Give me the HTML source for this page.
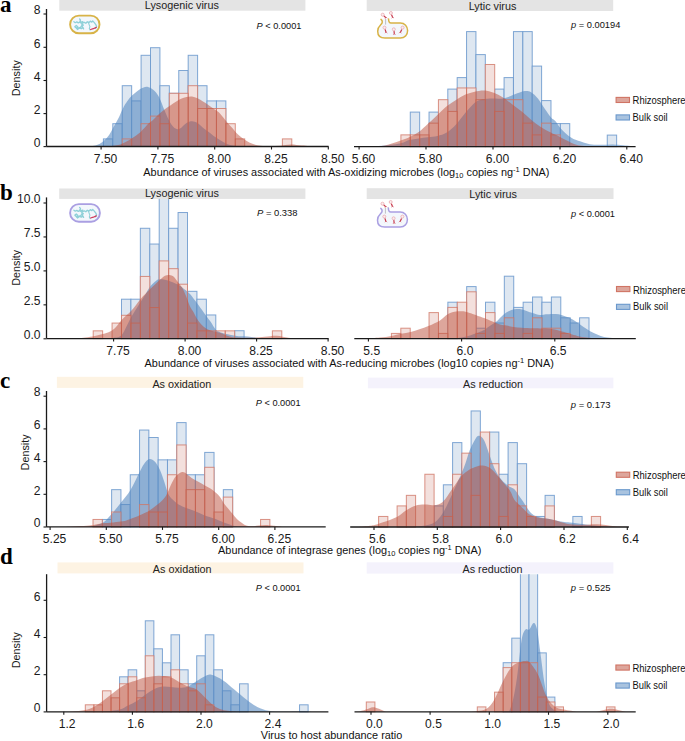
<!DOCTYPE html>
<html><head><meta charset="utf-8"><style>
html,body{margin:0;padding:0;background:#fff;width:685px;height:741px;overflow:hidden}
svg{display:block}
text{font-family:"Liberation Sans",sans-serif}
.lt{font-family:"Liberation Serif",serif;font-weight:bold}
</style></head><body>
<svg width="685" height="741" viewBox="0 0 685 741">
<clipPath id="cal"><rect x="0" y="9.00" width="685" height="139.50"/></clipPath><g clip-path="url(#cal)"><g fill="#dee7f1" stroke="rgb(106,152,204)" stroke-opacity="0.85" stroke-width="1"><rect x="103.40" y="138.90" width="9.42" height="7.60"/><rect x="112.82" y="123.70" width="9.42" height="22.80"/><rect x="122.24" y="85.70" width="9.42" height="60.80"/><rect x="131.66" y="100.90" width="9.42" height="45.60"/><rect x="141.08" y="55.30" width="9.42" height="91.20"/><rect x="150.50" y="47.70" width="9.42" height="98.80"/><rect x="159.92" y="85.70" width="9.42" height="60.80"/><rect x="169.34" y="93.30" width="9.42" height="53.20"/><rect x="178.76" y="70.50" width="9.42" height="76.00"/><rect x="188.18" y="55.30" width="9.42" height="91.20"/><rect x="197.60" y="85.70" width="9.42" height="60.80"/><rect x="207.02" y="100.90" width="9.42" height="45.60"/><rect x="216.44" y="100.90" width="9.42" height="45.60"/></g><g fill="#f3e0dd"><rect x="122.24" y="138.90" width="9.42" height="7.60"/><rect x="141.08" y="123.70" width="9.42" height="22.80"/><rect x="150.50" y="116.10" width="9.42" height="30.40"/><rect x="159.92" y="123.70" width="9.42" height="22.80"/><rect x="169.34" y="93.30" width="9.42" height="53.20"/><rect x="178.76" y="93.30" width="9.42" height="53.20"/><rect x="188.18" y="85.70" width="9.42" height="60.80"/><rect x="197.60" y="108.50" width="9.42" height="38.00"/><rect x="207.02" y="108.50" width="9.42" height="38.00"/><rect x="216.44" y="108.50" width="9.42" height="38.00"/><rect x="225.86" y="123.70" width="9.42" height="22.80"/><rect x="235.28" y="138.90" width="9.42" height="7.60"/><rect x="282.38" y="138.90" width="9.42" height="7.60"/></g><path d="M84.00,146.50 C85.88,146.35 92.12,146.43 95.30,145.60 C98.48,144.77 100.80,143.27 103.10,141.50 C105.40,139.73 107.33,137.45 109.10,135.00 C110.87,132.55 112.17,129.55 113.70,126.80 C115.23,124.05 116.77,121.57 118.30,118.50 C119.83,115.43 121.38,111.30 122.90,108.40 C124.42,105.50 125.88,103.23 127.40,101.10 C128.92,98.97 130.32,97.28 132.00,95.60 C133.68,93.92 135.67,92.30 137.50,91.00 C139.33,89.70 141.25,88.48 143.00,87.80 C144.75,87.12 146.25,86.52 148.00,86.90 C149.75,87.28 151.67,88.42 153.50,90.10 C155.33,91.78 157.17,93.63 159.00,97.00 C160.83,100.37 162.67,106.10 164.50,110.30 C166.33,114.50 168.17,119.15 170.00,122.20 C171.83,125.25 173.82,127.53 175.50,128.60 C177.18,129.67 178.27,129.52 180.10,128.60 C181.93,127.68 184.52,124.32 186.50,123.10 C188.48,121.88 190.17,121.30 192.00,121.30 C193.83,121.30 195.67,122.03 197.50,123.10 C199.33,124.17 201.25,126.32 203.00,127.70 C204.75,129.08 205.83,129.77 208.00,131.40 C210.17,133.03 212.72,135.37 216.00,137.50 C219.28,139.63 223.70,142.70 227.70,144.20 C231.70,145.70 237.95,146.12 240.00,146.50 L240.00,146.50 L84.00,146.50 Z" fill="rgb(83,135,191)" fill-opacity="0.58"/><g fill="none" stroke="rgb(208,116,100)" stroke-opacity="0.78" stroke-width="1"><rect x="122.24" y="138.90" width="9.42" height="7.60"/><rect x="141.08" y="123.70" width="9.42" height="22.80"/><rect x="150.50" y="116.10" width="9.42" height="30.40"/><rect x="159.92" y="123.70" width="9.42" height="22.80"/><rect x="169.34" y="93.30" width="9.42" height="53.20"/><rect x="178.76" y="93.30" width="9.42" height="53.20"/><rect x="188.18" y="85.70" width="9.42" height="60.80"/><rect x="197.60" y="108.50" width="9.42" height="38.00"/><rect x="207.02" y="108.50" width="9.42" height="38.00"/><rect x="216.44" y="108.50" width="9.42" height="38.00"/><rect x="225.86" y="123.70" width="9.42" height="22.80"/><rect x="235.28" y="138.90" width="9.42" height="7.60"/><rect x="282.38" y="138.90" width="9.42" height="7.60"/></g><path d="M100.00,146.50 C102.58,146.35 111.38,146.28 115.50,145.60 C119.62,144.92 121.63,143.85 124.70,142.40 C127.77,140.95 131.15,138.73 133.90,136.90 C136.65,135.07 138.85,133.55 141.20,131.40 C143.55,129.25 145.95,126.00 148.00,124.00 C150.05,122.00 151.67,121.07 153.50,119.40 C155.33,117.73 157.17,115.67 159.00,114.00 C160.83,112.33 162.67,110.78 164.50,109.40 C166.33,108.02 168.17,106.93 170.00,105.70 C171.83,104.47 173.67,103.15 175.50,102.00 C177.33,100.85 179.17,99.63 181.00,98.80 C182.83,97.97 184.67,97.38 186.50,97.00 C188.33,96.62 190.17,96.28 192.00,96.50 C193.83,96.72 195.67,97.45 197.50,98.30 C199.33,99.15 201.25,100.52 203.00,101.60 C204.75,102.68 206.33,103.68 208.00,104.80 C209.67,105.92 211.17,107.00 213.00,108.30 C214.83,109.60 216.90,110.58 219.00,112.60 C221.10,114.62 223.38,117.83 225.60,120.40 C227.82,122.97 230.23,125.63 232.30,128.00 C234.37,130.37 235.80,132.55 238.00,134.60 C240.20,136.65 242.98,138.72 245.50,140.30 C248.02,141.88 250.57,143.18 253.10,144.10 C255.63,145.02 257.88,145.43 260.70,145.80 C263.52,146.17 266.78,146.30 270.00,146.30 C273.22,146.30 276.50,146.08 280.00,145.80 C283.50,145.52 287.33,144.63 291.00,144.60 C294.67,144.57 297.83,145.28 302.00,145.60 C306.17,145.92 313.67,146.35 316.00,146.50 L316.00,146.50 L100.00,146.50 Z" fill="rgb(187,77,57)" fill-opacity="0.50"/></g><line x1="46.50" y1="146.50" x2="328.60" y2="146.50" stroke="#1a1a1a" stroke-width="1.3"/><line x1="101.10" y1="146.50" x2="101.10" y2="149.50" stroke="#1a1a1a" stroke-width="1.1"/><text x="105.58" y="162.70" text-anchor="middle" font-size="12.10" fill="#1a1a1a">7.50</text><line x1="157.90" y1="146.50" x2="157.90" y2="149.50" stroke="#1a1a1a" stroke-width="1.1"/><text x="162.38" y="162.70" text-anchor="middle" font-size="12.10" fill="#1a1a1a">7.75</text><line x1="214.70" y1="146.50" x2="214.70" y2="149.50" stroke="#1a1a1a" stroke-width="1.1"/><text x="219.18" y="162.70" text-anchor="middle" font-size="12.10" fill="#1a1a1a">8.00</text><line x1="271.50" y1="146.50" x2="271.50" y2="149.50" stroke="#1a1a1a" stroke-width="1.1"/><text x="275.98" y="162.70" text-anchor="middle" font-size="12.10" fill="#1a1a1a">8.25</text><line x1="328.30" y1="146.50" x2="328.30" y2="149.50" stroke="#1a1a1a" stroke-width="1.1"/><text x="332.78" y="162.70" text-anchor="middle" font-size="12.10" fill="#1a1a1a">8.50</text>
<clipPath id="car"><rect x="0" y="9.00" width="685" height="139.60"/></clipPath><g clip-path="url(#car)"><g fill="#dee7f1" stroke="rgb(106,152,204)" stroke-opacity="0.85" stroke-width="1"><rect x="410.28" y="112.10" width="9.38" height="34.50"/><rect x="429.04" y="112.10" width="9.38" height="34.50"/><rect x="447.80" y="89.10" width="9.38" height="57.50"/><rect x="457.18" y="77.60" width="9.38" height="69.00"/><rect x="466.56" y="31.60" width="9.38" height="115.00"/><rect x="475.94" y="54.60" width="9.38" height="92.00"/><rect x="485.32" y="100.60" width="9.38" height="46.00"/><rect x="494.70" y="89.10" width="9.38" height="57.50"/><rect x="504.08" y="77.60" width="9.38" height="69.00"/><rect x="513.46" y="31.60" width="9.38" height="115.00"/><rect x="522.84" y="31.60" width="9.38" height="115.00"/><rect x="532.22" y="66.10" width="9.38" height="80.50"/><rect x="541.60" y="100.60" width="9.38" height="46.00"/><rect x="550.98" y="123.60" width="9.38" height="23.00"/><rect x="560.36" y="123.60" width="9.38" height="23.00"/><rect x="607.26" y="135.10" width="9.38" height="11.50"/></g><g fill="#f3e0dd"><rect x="400.90" y="134.87" width="9.38" height="11.73"/><rect x="410.28" y="134.87" width="9.38" height="11.73"/><rect x="419.66" y="134.87" width="9.38" height="11.73"/><rect x="429.04" y="123.14" width="9.38" height="23.46"/><rect x="438.42" y="99.68" width="9.38" height="46.92"/><rect x="447.80" y="111.41" width="9.38" height="35.19"/><rect x="457.18" y="87.95" width="9.38" height="58.65"/><rect x="466.56" y="87.95" width="9.38" height="58.65"/><rect x="475.94" y="99.68" width="9.38" height="46.92"/><rect x="485.32" y="64.49" width="9.38" height="82.11"/><rect x="494.70" y="111.41" width="9.38" height="35.19"/><rect x="504.08" y="99.68" width="9.38" height="46.92"/><rect x="513.46" y="99.68" width="9.38" height="46.92"/><rect x="522.84" y="123.14" width="9.38" height="23.46"/><rect x="532.22" y="134.87" width="9.38" height="11.73"/><rect x="541.60" y="123.14" width="9.38" height="23.46"/><rect x="550.98" y="134.87" width="9.38" height="11.73"/></g><path d="M372.00,146.60 C373.62,146.47 377.03,146.30 381.70,145.80 C386.37,145.30 395.40,144.55 400.00,143.60 C404.60,142.65 406.18,140.97 409.30,140.10 C412.42,139.23 415.58,138.88 418.70,138.40 C421.82,137.92 424.88,137.60 428.00,137.20 C431.12,136.80 434.28,136.77 437.40,136.00 C440.52,135.23 443.60,134.53 446.70,132.60 C449.80,130.67 452.88,127.72 456.00,124.40 C459.12,121.08 462.28,116.30 465.40,112.70 C468.52,109.10 472.27,104.93 474.70,102.80 C477.13,100.67 477.45,100.60 480.00,99.90 C482.55,99.20 486.17,98.85 490.00,98.60 C493.83,98.35 499.27,98.97 503.00,98.40 C506.73,97.83 509.28,96.32 512.40,95.20 C515.52,94.08 519.37,92.38 521.70,91.70 C524.03,91.02 524.83,91.00 526.40,91.10 C527.97,91.20 529.15,91.03 531.10,92.30 C533.05,93.57 535.77,95.88 538.10,98.70 C540.43,101.52 542.95,106.08 545.10,109.20 C547.25,112.32 549.30,115.43 551.00,117.40 C552.70,119.37 553.72,119.18 555.30,121.00 C556.88,122.82 558.75,126.22 560.50,128.30 C562.25,130.38 564.05,131.97 565.80,133.50 C567.55,135.03 569.25,136.40 571.00,137.50 C572.75,138.60 574.10,139.23 576.30,140.10 C578.50,140.97 581.58,141.98 584.20,142.70 C586.82,143.42 588.93,144.07 592.00,144.40 C595.07,144.73 599.10,144.70 602.60,144.70 C606.10,144.70 609.50,144.30 613.00,144.40 C616.50,144.50 619.77,144.93 623.60,145.30 C627.43,145.67 633.93,146.38 636.00,146.60 L636.00,146.60 L372.00,146.60 Z" fill="rgb(83,135,191)" fill-opacity="0.58"/><g fill="none" stroke="rgb(208,116,100)" stroke-opacity="0.78" stroke-width="1"><rect x="400.90" y="134.87" width="9.38" height="11.73"/><rect x="410.28" y="134.87" width="9.38" height="11.73"/><rect x="419.66" y="134.87" width="9.38" height="11.73"/><rect x="429.04" y="123.14" width="9.38" height="23.46"/><rect x="438.42" y="99.68" width="9.38" height="46.92"/><rect x="447.80" y="111.41" width="9.38" height="35.19"/><rect x="457.18" y="87.95" width="9.38" height="58.65"/><rect x="466.56" y="87.95" width="9.38" height="58.65"/><rect x="475.94" y="99.68" width="9.38" height="46.92"/><rect x="485.32" y="64.49" width="9.38" height="82.11"/><rect x="494.70" y="111.41" width="9.38" height="35.19"/><rect x="504.08" y="99.68" width="9.38" height="46.92"/><rect x="513.46" y="99.68" width="9.38" height="46.92"/><rect x="522.84" y="123.14" width="9.38" height="23.46"/><rect x="532.22" y="134.87" width="9.38" height="11.73"/><rect x="541.60" y="123.14" width="9.38" height="23.46"/><rect x="550.98" y="134.87" width="9.38" height="11.73"/></g><path d="M372.00,146.60 C374.17,146.42 380.33,146.48 385.00,145.50 C389.67,144.52 395.95,142.08 400.00,140.70 C404.05,139.32 406.18,138.65 409.30,137.20 C412.42,135.75 415.58,134.23 418.70,132.00 C421.82,129.77 424.88,126.63 428.00,123.80 C431.12,120.97 434.28,117.92 437.40,115.00 C440.52,112.08 443.60,108.82 446.70,106.30 C449.80,103.78 452.88,101.85 456.00,99.90 C459.12,97.95 462.28,95.97 465.40,94.60 C468.52,93.23 471.55,92.38 474.70,91.70 C477.85,91.02 481.13,90.32 484.30,90.50 C487.47,90.68 490.58,91.63 493.70,92.80 C496.82,93.97 499.88,95.55 503.00,97.50 C506.12,99.45 509.28,102.17 512.40,104.50 C515.52,106.83 518.58,108.97 521.70,111.50 C524.82,114.03 527.98,117.17 531.10,119.70 C534.22,122.23 537.30,124.65 540.40,126.70 C543.50,128.75 547.27,130.68 549.70,132.00 C552.13,133.32 553.20,133.73 555.00,134.60 C556.80,135.47 558.70,136.28 560.50,137.20 C562.30,138.12 564.05,139.18 565.80,140.10 C567.55,141.02 569.25,141.93 571.00,142.70 C572.75,143.47 574.10,144.15 576.30,144.70 C578.50,145.25 581.25,145.68 584.20,146.00 C587.15,146.32 592.37,146.50 594.00,146.60 L594.00,146.60 L372.00,146.60 Z" fill="rgb(187,77,57)" fill-opacity="0.50"/></g><line x1="354.00" y1="146.60" x2="635.60" y2="146.60" stroke="#1a1a1a" stroke-width="1.3"/><line x1="359.10" y1="146.60" x2="359.10" y2="149.60" stroke="#1a1a1a" stroke-width="1.1"/><text x="363.58" y="162.80" text-anchor="middle" font-size="12.10" fill="#1a1a1a">5.60</text><line x1="426.00" y1="146.60" x2="426.00" y2="149.60" stroke="#1a1a1a" stroke-width="1.1"/><text x="430.48" y="162.80" text-anchor="middle" font-size="12.10" fill="#1a1a1a">5.80</text><line x1="493.00" y1="146.60" x2="493.00" y2="149.60" stroke="#1a1a1a" stroke-width="1.1"/><text x="497.48" y="162.80" text-anchor="middle" font-size="12.10" fill="#1a1a1a">6.00</text><line x1="560.00" y1="146.60" x2="560.00" y2="149.60" stroke="#1a1a1a" stroke-width="1.1"/><text x="564.48" y="162.80" text-anchor="middle" font-size="12.10" fill="#1a1a1a">6.20</text><line x1="626.80" y1="146.60" x2="626.80" y2="149.60" stroke="#1a1a1a" stroke-width="1.1"/><text x="631.28" y="162.80" text-anchor="middle" font-size="12.10" fill="#1a1a1a">6.40</text>
<clipPath id="cbl"><rect x="0" y="197.40" width="685" height="143.20"/></clipPath><g clip-path="url(#cbl)"><g fill="#dee7f1" stroke="rgb(106,152,204)" stroke-opacity="0.85" stroke-width="1"><rect x="121.49" y="299.20" width="9.43" height="39.40"/><rect x="130.92" y="299.20" width="9.43" height="39.40"/><rect x="140.35" y="228.28" width="9.43" height="110.32"/><rect x="149.78" y="244.04" width="9.43" height="94.56"/><rect x="159.21" y="181.00" width="9.43" height="157.60"/><rect x="168.64" y="228.28" width="9.43" height="110.32"/><rect x="178.07" y="212.52" width="9.43" height="126.08"/><rect x="187.50" y="291.32" width="9.43" height="47.28"/><rect x="196.93" y="299.20" width="9.43" height="39.40"/><rect x="206.36" y="314.96" width="9.43" height="23.64"/><rect x="234.65" y="330.72" width="9.43" height="7.88"/></g><g fill="#f3e0dd"><rect x="93.20" y="330.83" width="9.43" height="7.77"/><rect x="112.06" y="323.06" width="9.43" height="15.54"/><rect x="121.49" y="315.29" width="9.43" height="23.31"/><rect x="130.92" y="323.06" width="9.43" height="15.54"/><rect x="140.35" y="276.44" width="9.43" height="62.16"/><rect x="149.78" y="307.52" width="9.43" height="31.08"/><rect x="159.21" y="260.90" width="9.43" height="77.70"/><rect x="168.64" y="268.67" width="9.43" height="69.93"/><rect x="178.07" y="284.21" width="9.43" height="54.39"/><rect x="187.50" y="323.06" width="9.43" height="15.54"/><rect x="196.93" y="330.83" width="9.43" height="7.77"/><rect x="206.36" y="330.83" width="9.43" height="7.77"/><rect x="215.79" y="330.83" width="9.43" height="7.77"/><rect x="225.22" y="330.83" width="9.43" height="7.77"/><rect x="272.37" y="330.83" width="9.43" height="7.77"/></g><path d="M108.00,338.60 C109.00,338.47 111.68,338.43 114.00,337.80 C116.32,337.17 118.98,338.33 121.90,334.80 C124.82,331.27 128.43,322.00 131.50,316.60 C134.57,311.20 137.98,306.10 140.30,302.40 C142.62,298.70 143.72,297.08 145.40,294.40 C147.08,291.72 148.72,288.50 150.40,286.30 C152.08,284.10 153.98,282.38 155.50,281.20 C157.02,280.02 157.42,279.33 159.50,279.20 C161.58,279.07 164.88,279.47 168.00,280.40 C171.12,281.33 175.53,283.37 178.20,284.80 C180.87,286.23 182.03,287.48 184.00,289.00 C185.97,290.52 187.87,291.60 190.00,293.90 C192.13,296.20 194.95,300.33 196.80,302.80 C198.65,305.27 199.48,306.47 201.10,308.70 C202.72,310.93 204.88,313.97 206.50,316.20 C208.12,318.43 209.28,319.88 210.80,322.10 C212.32,324.32 214.12,327.83 215.60,329.50 C217.08,331.17 218.08,331.38 219.70,332.10 C221.32,332.82 222.43,333.13 225.30,333.80 C228.17,334.47 233.75,335.68 236.90,336.10 C240.05,336.52 241.77,336.17 244.20,336.30 C246.63,336.43 249.07,336.62 251.50,336.90 C253.93,337.18 256.38,337.72 258.80,338.00 C261.22,338.28 264.80,338.50 266.00,338.60 L266.00,338.60 L108.00,338.60 Z" fill="rgb(83,135,191)" fill-opacity="0.58"/><g fill="none" stroke="rgb(208,116,100)" stroke-opacity="0.78" stroke-width="1"><rect x="93.20" y="330.83" width="9.43" height="7.77"/><rect x="112.06" y="323.06" width="9.43" height="15.54"/><rect x="121.49" y="315.29" width="9.43" height="23.31"/><rect x="130.92" y="323.06" width="9.43" height="15.54"/><rect x="140.35" y="276.44" width="9.43" height="62.16"/><rect x="149.78" y="307.52" width="9.43" height="31.08"/><rect x="159.21" y="260.90" width="9.43" height="77.70"/><rect x="168.64" y="268.67" width="9.43" height="69.93"/><rect x="178.07" y="284.21" width="9.43" height="54.39"/><rect x="187.50" y="323.06" width="9.43" height="15.54"/><rect x="196.93" y="330.83" width="9.43" height="7.77"/><rect x="206.36" y="330.83" width="9.43" height="7.77"/><rect x="215.79" y="330.83" width="9.43" height="7.77"/><rect x="225.22" y="330.83" width="9.43" height="7.77"/><rect x="272.37" y="330.83" width="9.43" height="7.77"/></g><path d="M74.00,338.60 C75.02,338.55 76.28,338.80 80.10,338.30 C83.92,337.80 91.58,336.88 96.90,335.60 C102.22,334.32 107.83,333.25 112.00,330.60 C116.17,327.95 118.65,323.05 121.90,319.70 C125.15,316.35 128.43,313.88 131.50,310.50 C134.57,307.12 137.15,303.02 140.30,299.40 C143.45,295.78 147.20,292.00 150.40,288.80 C153.60,285.60 157.07,282.37 159.50,280.20 C161.93,278.03 163.35,276.67 165.00,275.80 C166.65,274.93 167.93,274.83 169.40,275.00 C170.87,275.17 172.33,275.53 173.80,276.80 C175.27,278.07 176.73,280.65 178.20,282.60 C179.67,284.55 181.30,286.27 182.60,288.50 C183.90,290.73 184.77,293.00 186.00,296.00 C187.23,299.00 188.72,303.75 190.00,306.50 C191.28,309.25 192.57,310.52 193.70,312.50 C194.83,314.48 195.57,316.43 196.80,318.40 C198.03,320.37 199.48,322.57 201.10,324.30 C202.72,326.03 204.63,327.68 206.50,328.80 C208.37,329.92 210.10,330.33 212.30,331.00 C214.50,331.67 216.82,331.88 219.70,332.80 C222.58,333.72 226.73,335.70 229.60,336.50 C232.47,337.30 233.28,337.38 236.90,337.60 C240.52,337.82 246.65,337.93 251.30,337.80 C255.95,337.67 260.60,337.13 264.80,336.80 C269.00,336.47 272.58,335.63 276.50,335.80 C280.42,335.97 285.05,337.33 288.30,337.80 C291.55,338.27 294.72,338.47 296.00,338.60 L296.00,338.60 L74.00,338.60 Z" fill="rgb(187,77,57)" fill-opacity="0.50"/></g><line x1="46.50" y1="338.60" x2="328.60" y2="338.60" stroke="#1a1a1a" stroke-width="1.3"/><line x1="113.60" y1="338.60" x2="113.60" y2="341.60" stroke="#1a1a1a" stroke-width="1.1"/><text x="118.08" y="354.80" text-anchor="middle" font-size="12.10" fill="#1a1a1a">7.75</text><line x1="185.10" y1="338.60" x2="185.10" y2="341.60" stroke="#1a1a1a" stroke-width="1.1"/><text x="189.58" y="354.80" text-anchor="middle" font-size="12.10" fill="#1a1a1a">8.00</text><line x1="256.60" y1="338.60" x2="256.60" y2="341.60" stroke="#1a1a1a" stroke-width="1.1"/><text x="261.08" y="354.80" text-anchor="middle" font-size="12.10" fill="#1a1a1a">8.25</text><line x1="328.10" y1="338.60" x2="328.10" y2="341.60" stroke="#1a1a1a" stroke-width="1.1"/><text x="332.58" y="354.80" text-anchor="middle" font-size="12.10" fill="#1a1a1a">8.50</text>
<clipPath id="cbr"><rect x="0" y="197.40" width="685" height="143.20"/></clipPath><g clip-path="url(#cbr)"><g fill="#dee7f1" stroke="rgb(106,152,204)" stroke-opacity="0.85" stroke-width="1"><rect x="447.86" y="302.20" width="9.41" height="36.40"/><rect x="466.68" y="286.60" width="9.41" height="52.00"/><rect x="476.09" y="328.20" width="9.41" height="10.40"/><rect x="485.50" y="302.20" width="9.41" height="36.40"/><rect x="494.91" y="323.00" width="9.41" height="15.60"/><rect x="504.32" y="276.20" width="9.41" height="62.40"/><rect x="513.73" y="307.40" width="9.41" height="31.20"/><rect x="523.14" y="302.20" width="9.41" height="36.40"/><rect x="532.55" y="297.00" width="9.41" height="41.60"/><rect x="541.96" y="302.20" width="9.41" height="36.40"/><rect x="551.37" y="297.00" width="9.41" height="41.60"/><rect x="560.78" y="317.80" width="9.41" height="20.80"/><rect x="570.19" y="323.00" width="9.41" height="15.60"/><rect x="579.60" y="317.80" width="9.41" height="20.80"/></g><g fill="#f3e0dd"><rect x="391.40" y="333.40" width="9.41" height="5.20"/><rect x="400.81" y="328.20" width="9.41" height="10.40"/><rect x="429.04" y="312.60" width="9.41" height="26.00"/><rect x="438.45" y="333.40" width="9.41" height="5.20"/><rect x="447.86" y="307.40" width="9.41" height="31.20"/><rect x="457.27" y="302.20" width="9.41" height="36.40"/><rect x="466.68" y="291.80" width="9.41" height="46.80"/><rect x="476.09" y="333.40" width="9.41" height="5.20"/><rect x="485.50" y="312.60" width="9.41" height="26.00"/><rect x="494.91" y="333.40" width="9.41" height="5.20"/><rect x="504.32" y="317.80" width="9.41" height="20.80"/><rect x="523.14" y="333.40" width="9.41" height="5.20"/><rect x="532.55" y="317.80" width="9.41" height="20.80"/><rect x="541.96" y="328.20" width="9.41" height="10.40"/><rect x="551.37" y="328.20" width="9.41" height="10.40"/><rect x="560.78" y="333.40" width="9.41" height="5.20"/></g><path d="M446.00,338.60 C448.00,338.50 454.00,338.52 458.00,338.00 C462.00,337.48 466.33,336.53 470.00,335.50 C473.67,334.47 477.45,332.85 480.00,331.80 C482.55,330.75 483.55,330.23 485.30,329.20 C487.05,328.17 488.75,326.78 490.50,325.60 C492.25,324.42 494.05,323.55 495.80,322.10 C497.55,320.65 499.25,318.50 501.00,316.90 C502.75,315.30 504.55,313.67 506.30,312.50 C508.05,311.33 509.75,310.48 511.50,309.90 C513.25,309.32 515.05,309.08 516.80,309.00 C518.55,308.92 520.25,309.03 522.00,309.40 C523.75,309.77 525.55,310.60 527.30,311.20 C529.05,311.80 530.38,312.37 532.50,313.00 C534.62,313.63 537.78,314.78 540.00,315.00 C542.22,315.22 543.85,314.48 545.80,314.30 C547.75,314.12 549.55,313.90 551.70,313.90 C553.85,313.90 556.37,313.85 558.70,314.30 C561.03,314.75 563.37,315.73 565.70,316.60 C568.03,317.47 570.37,318.23 572.70,319.50 C575.03,320.77 577.37,322.63 579.70,324.20 C582.03,325.77 584.37,327.43 586.70,328.90 C589.03,330.37 591.37,331.83 593.70,333.00 C596.03,334.17 598.37,335.13 600.70,335.90 C603.03,336.67 605.15,337.15 607.70,337.60 C610.25,338.05 614.62,338.43 616.00,338.60 L616.00,338.60 L446.00,338.60 Z" fill="rgb(83,135,191)" fill-opacity="0.58"/><g fill="none" stroke="rgb(208,116,100)" stroke-opacity="0.78" stroke-width="1"><rect x="391.40" y="333.40" width="9.41" height="5.20"/><rect x="400.81" y="328.20" width="9.41" height="10.40"/><rect x="429.04" y="312.60" width="9.41" height="26.00"/><rect x="438.45" y="333.40" width="9.41" height="5.20"/><rect x="447.86" y="307.40" width="9.41" height="31.20"/><rect x="457.27" y="302.20" width="9.41" height="36.40"/><rect x="466.68" y="291.80" width="9.41" height="46.80"/><rect x="476.09" y="333.40" width="9.41" height="5.20"/><rect x="485.50" y="312.60" width="9.41" height="26.00"/><rect x="494.91" y="333.40" width="9.41" height="5.20"/><rect x="504.32" y="317.80" width="9.41" height="20.80"/><rect x="523.14" y="333.40" width="9.41" height="5.20"/><rect x="532.55" y="317.80" width="9.41" height="20.80"/><rect x="541.96" y="328.20" width="9.41" height="10.40"/><rect x="551.37" y="328.20" width="9.41" height="10.40"/><rect x="560.78" y="333.40" width="9.41" height="5.20"/></g><path d="M366.00,338.60 C368.33,338.43 375.77,338.05 380.00,337.60 C384.23,337.15 387.90,336.55 391.40,335.90 C394.90,335.25 397.78,334.35 401.00,333.70 C404.22,333.05 407.63,332.73 410.70,332.00 C413.77,331.27 416.35,330.33 419.40,329.30 C422.45,328.27 425.57,327.27 429.00,325.80 C432.43,324.33 436.82,322.47 440.00,320.50 C443.18,318.53 445.40,315.48 448.10,314.00 C450.80,312.52 453.90,312.07 456.20,311.60 C458.50,311.13 459.88,311.07 461.90,311.20 C463.92,311.33 465.28,311.52 468.30,312.40 C471.32,313.28 477.17,315.47 480.00,316.50 C482.83,317.53 483.55,317.88 485.30,318.60 C487.05,319.32 488.75,320.07 490.50,320.80 C492.25,321.53 494.05,322.33 495.80,323.00 C497.55,323.67 499.25,324.37 501.00,324.80 C502.75,325.23 504.25,325.23 506.30,325.60 C508.35,325.97 510.68,326.63 513.30,327.00 C515.92,327.37 518.80,327.58 522.00,327.80 C525.20,328.02 529.50,328.20 532.50,328.30 C535.50,328.40 536.80,328.30 540.00,328.40 C543.20,328.50 547.80,328.33 551.70,328.90 C555.60,329.47 560.28,330.93 563.40,331.80 C566.52,332.67 568.07,333.42 570.40,334.10 C572.73,334.78 574.68,335.32 577.40,335.90 C580.12,336.48 583.60,337.15 586.70,337.60 C589.80,338.05 594.45,338.43 596.00,338.60 L596.00,338.60 L366.00,338.60 Z" fill="rgb(187,77,57)" fill-opacity="0.50"/></g><line x1="354.30" y1="338.60" x2="635.80" y2="338.60" stroke="#1a1a1a" stroke-width="1.3"/><line x1="368.40" y1="338.60" x2="368.40" y2="341.60" stroke="#1a1a1a" stroke-width="1.1"/><text x="371.76" y="354.80" text-anchor="middle" font-size="12.10" fill="#1a1a1a">5.5</text><line x1="461.60" y1="338.60" x2="461.60" y2="341.60" stroke="#1a1a1a" stroke-width="1.1"/><text x="464.96" y="354.80" text-anchor="middle" font-size="12.10" fill="#1a1a1a">6.0</text><line x1="554.80" y1="338.60" x2="554.80" y2="341.60" stroke="#1a1a1a" stroke-width="1.1"/><text x="558.16" y="354.80" text-anchor="middle" font-size="12.10" fill="#1a1a1a">6.5</text>
<clipPath id="ccl"><rect x="0" y="391.00" width="685" height="137.90"/></clipPath><g clip-path="url(#ccl)"><g fill="#dee7f1" stroke="rgb(106,152,204)" stroke-opacity="0.85" stroke-width="1"><rect x="102.31" y="519.45" width="9.31" height="7.45"/><rect x="111.62" y="489.65" width="9.31" height="37.25"/><rect x="120.93" y="504.55" width="9.31" height="22.35"/><rect x="130.24" y="474.75" width="9.31" height="52.15"/><rect x="139.55" y="430.05" width="9.31" height="96.85"/><rect x="148.86" y="437.50" width="9.31" height="89.40"/><rect x="158.17" y="459.85" width="9.31" height="67.05"/><rect x="167.48" y="459.85" width="9.31" height="67.05"/><rect x="176.79" y="422.60" width="9.31" height="104.30"/><rect x="186.10" y="474.75" width="9.31" height="52.15"/><rect x="195.41" y="474.75" width="9.31" height="52.15"/><rect x="204.72" y="452.40" width="9.31" height="74.50"/><rect x="223.34" y="489.65" width="9.31" height="37.25"/></g><g fill="#f3e0dd"><rect x="93.00" y="519.45" width="9.31" height="7.45"/><rect x="111.62" y="512.00" width="9.31" height="14.90"/><rect x="139.55" y="504.55" width="9.31" height="22.35"/><rect x="148.86" y="512.00" width="9.31" height="14.90"/><rect x="158.17" y="512.00" width="9.31" height="14.90"/><rect x="167.48" y="474.75" width="9.31" height="52.15"/><rect x="176.79" y="444.95" width="9.31" height="81.95"/><rect x="186.10" y="489.65" width="9.31" height="37.25"/><rect x="195.41" y="489.65" width="9.31" height="37.25"/><rect x="204.72" y="467.30" width="9.31" height="59.60"/><rect x="214.03" y="512.00" width="9.31" height="14.90"/><rect x="223.34" y="497.10" width="9.31" height="29.80"/><rect x="260.58" y="519.45" width="9.31" height="7.45"/></g><path d="M88.00,526.90 C89.17,526.67 92.47,526.22 95.00,525.50 C97.53,524.78 100.62,524.30 103.20,522.60 C105.78,520.90 107.53,518.63 110.50,515.30 C113.47,511.97 117.67,506.82 121.00,502.60 C124.33,498.38 127.50,494.90 130.50,490.00 C133.50,485.10 136.72,477.58 139.00,473.20 C141.28,468.82 142.45,466.07 144.20,463.70 C145.95,461.33 147.75,459.35 149.50,459.00 C151.25,458.65 152.95,459.77 154.70,461.60 C156.45,463.43 158.42,466.67 160.00,470.00 C161.58,473.33 162.80,477.57 164.20,481.60 C165.60,485.63 166.82,491.05 168.40,494.20 C169.98,497.35 171.93,498.75 173.70,500.50 C175.47,502.25 176.90,503.47 179.00,504.70 C181.10,505.93 183.68,506.83 186.30,507.90 C188.92,508.97 191.72,509.87 194.70,511.10 C197.68,512.33 200.82,514.02 204.20,515.30 C207.58,516.58 211.73,517.60 215.00,518.80 C218.27,520.00 220.88,521.40 223.80,522.50 C226.72,523.60 229.80,524.72 232.50,525.40 C235.20,526.08 237.42,526.35 240.00,526.60 C242.58,526.85 246.67,526.85 248.00,526.90 L248.00,526.90 L88.00,526.90 Z" fill="rgb(83,135,191)" fill-opacity="0.58"/><g fill="none" stroke="rgb(208,116,100)" stroke-opacity="0.78" stroke-width="1"><rect x="93.00" y="519.45" width="9.31" height="7.45"/><rect x="111.62" y="512.00" width="9.31" height="14.90"/><rect x="139.55" y="504.55" width="9.31" height="22.35"/><rect x="148.86" y="512.00" width="9.31" height="14.90"/><rect x="158.17" y="512.00" width="9.31" height="14.90"/><rect x="167.48" y="474.75" width="9.31" height="52.15"/><rect x="176.79" y="444.95" width="9.31" height="81.95"/><rect x="186.10" y="489.65" width="9.31" height="37.25"/><rect x="195.41" y="489.65" width="9.31" height="37.25"/><rect x="204.72" y="467.30" width="9.31" height="59.60"/><rect x="214.03" y="512.00" width="9.31" height="14.90"/><rect x="223.34" y="497.10" width="9.31" height="29.80"/><rect x="260.58" y="519.45" width="9.31" height="7.45"/></g><path d="M66.00,526.90 C69.88,526.67 83.63,526.03 89.30,525.50 C94.97,524.97 94.72,524.35 100.00,523.70 C105.28,523.05 115.73,522.48 121.00,521.60 C126.27,520.72 128.08,519.63 131.60,518.40 C135.12,517.17 139.12,515.52 142.10,514.20 C145.08,512.88 146.52,512.43 149.50,510.50 C152.48,508.57 157.20,505.13 160.00,502.60 C162.80,500.07 164.55,498.10 166.30,495.30 C168.05,492.50 168.92,488.97 170.50,485.80 C172.08,482.63 173.87,478.58 175.80,476.30 C177.73,474.02 180.35,472.53 182.10,472.10 C183.85,471.67 184.72,472.73 186.30,473.70 C187.88,474.67 189.67,476.58 191.60,477.90 C193.53,479.22 195.62,480.28 197.90,481.60 C200.18,482.92 202.85,484.40 205.30,485.80 C207.75,487.20 210.25,488.25 212.60,490.00 C214.95,491.75 217.53,494.08 219.40,496.30 C221.27,498.52 222.35,501.27 223.80,503.30 C225.25,505.33 226.65,506.75 228.10,508.50 C229.55,510.25 231.03,512.05 232.50,513.80 C233.97,515.55 235.43,517.55 236.90,519.00 C238.37,520.45 239.85,521.47 241.30,522.50 C242.75,523.53 243.85,524.58 245.60,525.20 C247.35,525.82 249.60,526.13 251.80,526.20 C254.00,526.27 256.47,525.82 258.80,525.60 C261.13,525.38 263.62,524.90 265.80,524.90 C267.98,524.90 269.20,525.27 271.90,525.60 C274.60,525.93 280.32,526.68 282.00,526.90 L282.00,526.90 L66.00,526.90 Z" fill="rgb(187,77,57)" fill-opacity="0.50"/></g><line x1="46.50" y1="526.90" x2="325.70" y2="526.90" stroke="#1a1a1a" stroke-width="1.3"/><line x1="50.10" y1="526.90" x2="50.10" y2="529.90" stroke="#1a1a1a" stroke-width="1.1"/><text x="54.58" y="543.10" text-anchor="middle" font-size="12.10" fill="#1a1a1a">5.25</text><line x1="106.30" y1="526.90" x2="106.30" y2="529.90" stroke="#1a1a1a" stroke-width="1.1"/><text x="110.78" y="543.10" text-anchor="middle" font-size="12.10" fill="#1a1a1a">5.50</text><line x1="162.50" y1="526.90" x2="162.50" y2="529.90" stroke="#1a1a1a" stroke-width="1.1"/><text x="166.98" y="543.10" text-anchor="middle" font-size="12.10" fill="#1a1a1a">5.75</text><line x1="218.70" y1="526.90" x2="218.70" y2="529.90" stroke="#1a1a1a" stroke-width="1.1"/><text x="223.18" y="543.10" text-anchor="middle" font-size="12.10" fill="#1a1a1a">6.00</text><line x1="274.90" y1="526.90" x2="274.90" y2="529.90" stroke="#1a1a1a" stroke-width="1.1"/><text x="279.38" y="543.10" text-anchor="middle" font-size="12.10" fill="#1a1a1a">6.25</text>
<clipPath id="ccr"><rect x="0" y="391.00" width="685" height="138.00"/></clipPath><g clip-path="url(#ccr)"><g fill="#dee7f1" stroke="rgb(106,152,204)" stroke-opacity="0.85" stroke-width="1"><rect x="434.10" y="505.90" width="9.25" height="21.10"/><rect x="443.35" y="484.80" width="9.25" height="42.20"/><rect x="452.60" y="442.60" width="9.25" height="84.40"/><rect x="461.85" y="463.70" width="9.25" height="63.30"/><rect x="471.10" y="410.95" width="9.25" height="116.05"/><rect x="480.35" y="453.15" width="9.25" height="73.85"/><rect x="489.60" y="432.05" width="9.25" height="94.95"/><rect x="498.85" y="474.25" width="9.25" height="52.75"/><rect x="508.10" y="442.60" width="9.25" height="84.40"/><rect x="517.35" y="463.70" width="9.25" height="63.30"/><rect x="535.85" y="516.45" width="9.25" height="10.55"/><rect x="545.10" y="495.35" width="9.25" height="31.65"/><rect x="572.85" y="516.45" width="9.25" height="10.55"/></g><g fill="#f3e0dd"><rect x="378.60" y="516.45" width="9.25" height="10.55"/><rect x="397.10" y="505.90" width="9.25" height="21.10"/><rect x="406.35" y="495.35" width="9.25" height="31.65"/><rect x="424.85" y="474.25" width="9.25" height="52.75"/><rect x="443.35" y="516.45" width="9.25" height="10.55"/><rect x="452.60" y="474.25" width="9.25" height="52.75"/><rect x="461.85" y="453.15" width="9.25" height="73.85"/><rect x="471.10" y="495.35" width="9.25" height="31.65"/><rect x="480.35" y="432.05" width="9.25" height="94.95"/><rect x="489.60" y="463.70" width="9.25" height="63.30"/><rect x="498.85" y="516.45" width="9.25" height="10.55"/><rect x="508.10" y="484.80" width="9.25" height="42.20"/><rect x="517.35" y="505.90" width="9.25" height="21.10"/><rect x="526.60" y="516.45" width="9.25" height="10.55"/><rect x="545.10" y="505.90" width="9.25" height="21.10"/><rect x="591.35" y="516.45" width="9.25" height="10.55"/></g><path d="M412.00,527.00 C414.17,526.75 421.28,526.23 425.00,525.50 C428.72,524.77 431.33,524.68 434.30,522.60 C437.27,520.52 439.77,517.87 442.80,513.00 C445.83,508.13 449.02,500.88 452.50,493.40 C455.98,485.92 460.85,475.23 463.70,468.10 C466.55,460.97 467.65,455.47 469.60,450.60 C471.55,445.73 473.82,441.38 475.40,438.90 C476.98,436.42 477.63,435.45 479.10,435.70 C480.57,435.95 482.38,436.95 484.20,440.40 C486.02,443.85 488.07,451.30 490.00,456.40 C491.93,461.50 493.87,467.10 495.80,471.00 C497.73,474.90 499.65,477.42 501.60,479.80 C503.55,482.18 505.37,483.72 507.50,485.30 C509.63,486.88 512.52,487.62 514.40,489.30 C516.28,490.98 517.35,493.37 518.80,495.40 C520.25,497.43 521.65,499.32 523.10,501.50 C524.55,503.68 526.03,506.45 527.50,508.50 C528.97,510.55 530.43,512.48 531.90,513.80 C533.37,515.12 534.12,515.67 536.30,516.40 C538.48,517.13 542.08,517.62 545.00,518.20 C547.92,518.78 550.88,519.32 553.80,519.90 C556.72,520.48 559.80,521.27 562.50,521.70 C565.20,522.13 567.08,522.15 570.00,522.50 C572.92,522.85 576.33,523.35 580.00,523.80 C583.67,524.25 587.00,524.67 592.00,525.20 C597.00,525.73 607.00,526.70 610.00,527.00 L610.00,527.00 L412.00,527.00 Z" fill="rgb(83,135,191)" fill-opacity="0.58"/><g fill="none" stroke="rgb(208,116,100)" stroke-opacity="0.78" stroke-width="1"><rect x="378.60" y="516.45" width="9.25" height="10.55"/><rect x="397.10" y="505.90" width="9.25" height="21.10"/><rect x="406.35" y="495.35" width="9.25" height="31.65"/><rect x="424.85" y="474.25" width="9.25" height="52.75"/><rect x="443.35" y="516.45" width="9.25" height="10.55"/><rect x="452.60" y="474.25" width="9.25" height="52.75"/><rect x="461.85" y="453.15" width="9.25" height="73.85"/><rect x="471.10" y="495.35" width="9.25" height="31.65"/><rect x="480.35" y="432.05" width="9.25" height="94.95"/><rect x="489.60" y="463.70" width="9.25" height="63.30"/><rect x="498.85" y="516.45" width="9.25" height="10.55"/><rect x="508.10" y="484.80" width="9.25" height="42.20"/><rect x="517.35" y="505.90" width="9.25" height="21.10"/><rect x="526.60" y="516.45" width="9.25" height="10.55"/><rect x="545.10" y="505.90" width="9.25" height="21.10"/><rect x="591.35" y="516.45" width="9.25" height="10.55"/></g><path d="M358.00,527.00 C360.00,526.78 366.63,526.22 370.00,525.70 C373.37,525.18 373.80,525.32 378.20,523.90 C382.60,522.48 391.78,519.42 396.40,517.20 C401.02,514.98 402.75,512.50 405.90,510.60 C409.05,508.70 412.18,506.80 415.30,505.80 C418.42,504.80 421.52,504.70 424.60,504.60 C427.68,504.50 430.77,505.65 433.80,505.20 C436.83,504.75 439.68,504.67 442.80,501.90 C445.92,499.13 449.50,492.77 452.50,488.60 C455.50,484.43 457.95,480.07 460.80,476.90 C463.65,473.73 466.92,471.35 469.60,469.60 C472.28,467.85 474.72,467.08 476.90,466.40 C479.08,465.72 480.52,465.22 482.70,465.50 C484.88,465.78 487.57,466.45 490.00,468.10 C492.43,469.75 494.87,472.73 497.30,475.40 C499.73,478.07 502.42,481.43 504.60,484.10 C506.78,486.77 508.77,488.78 510.40,491.40 C512.03,494.02 513.00,497.67 514.40,499.80 C515.80,501.93 517.35,502.75 518.80,504.20 C520.25,505.65 521.65,507.05 523.10,508.50 C524.55,509.95 526.03,511.73 527.50,512.90 C528.97,514.07 530.43,514.77 531.90,515.50 C533.37,516.23 534.12,516.78 536.30,517.30 C538.48,517.82 542.08,518.17 545.00,518.60 C547.92,519.03 550.88,519.25 553.80,519.90 C556.72,520.55 559.80,521.77 562.50,522.50 C565.20,523.23 566.25,523.92 570.00,524.30 C573.75,524.68 580.50,524.80 585.00,524.80 C589.50,524.80 592.00,524.07 597.00,524.30 C602.00,524.53 609.17,525.75 615.00,526.20 C620.83,526.65 629.17,526.87 632.00,527.00 L632.00,527.00 L358.00,527.00 Z" fill="rgb(187,77,57)" fill-opacity="0.50"/></g><line x1="350.20" y1="527.00" x2="628.90" y2="527.00" stroke="#1a1a1a" stroke-width="1.3"/><line x1="374.00" y1="527.00" x2="374.00" y2="530.00" stroke="#1a1a1a" stroke-width="1.1"/><text x="377.36" y="543.20" text-anchor="middle" font-size="12.10" fill="#1a1a1a">5.6</text><line x1="437.30" y1="527.00" x2="437.30" y2="530.00" stroke="#1a1a1a" stroke-width="1.1"/><text x="440.66" y="543.20" text-anchor="middle" font-size="12.10" fill="#1a1a1a">5.8</text><line x1="500.60" y1="527.00" x2="500.60" y2="530.00" stroke="#1a1a1a" stroke-width="1.1"/><text x="503.96" y="543.20" text-anchor="middle" font-size="12.10" fill="#1a1a1a">6.0</text><line x1="564.00" y1="527.00" x2="564.00" y2="530.00" stroke="#1a1a1a" stroke-width="1.1"/><text x="567.36" y="543.20" text-anchor="middle" font-size="12.10" fill="#1a1a1a">6.2</text><line x1="627.30" y1="527.00" x2="627.30" y2="530.00" stroke="#1a1a1a" stroke-width="1.1"/><text x="630.66" y="543.20" text-anchor="middle" font-size="12.10" fill="#1a1a1a">6.4</text>
<clipPath id="cdl"><rect x="0" y="574.20" width="685" height="139.60"/></clipPath><g clip-path="url(#cdl)"><g fill="#dee7f1" stroke="rgb(106,152,204)" stroke-opacity="0.85" stroke-width="1"><rect x="119.58" y="676.80" width="8.57" height="35.00"/><rect x="128.15" y="669.80" width="8.57" height="42.00"/><rect x="136.72" y="690.80" width="8.57" height="21.00"/><rect x="145.29" y="620.80" width="8.57" height="91.00"/><rect x="153.86" y="648.80" width="8.57" height="63.00"/><rect x="162.43" y="662.80" width="8.57" height="49.00"/><rect x="171.00" y="634.80" width="8.57" height="77.00"/><rect x="179.57" y="669.80" width="8.57" height="42.00"/><rect x="188.14" y="683.80" width="8.57" height="28.00"/><rect x="196.71" y="655.80" width="8.57" height="56.00"/><rect x="205.28" y="634.80" width="8.57" height="77.00"/><rect x="213.85" y="669.80" width="8.57" height="42.00"/><rect x="222.42" y="690.80" width="8.57" height="21.00"/><rect x="230.99" y="704.80" width="8.57" height="7.00"/><rect x="239.56" y="683.80" width="8.57" height="28.00"/><rect x="299.55" y="704.80" width="8.57" height="7.00"/></g><g fill="#f3e0dd"><rect x="85.30" y="704.80" width="8.57" height="7.00"/><rect x="93.87" y="704.80" width="8.57" height="7.00"/><rect x="102.44" y="690.80" width="8.57" height="21.00"/><rect x="111.01" y="697.80" width="8.57" height="14.00"/><rect x="119.58" y="683.80" width="8.57" height="28.00"/><rect x="128.15" y="676.80" width="8.57" height="35.00"/><rect x="136.72" y="697.80" width="8.57" height="14.00"/><rect x="145.29" y="655.80" width="8.57" height="56.00"/><rect x="153.86" y="683.80" width="8.57" height="28.00"/><rect x="162.43" y="676.80" width="8.57" height="35.00"/><rect x="171.00" y="669.80" width="8.57" height="42.00"/><rect x="179.57" y="683.80" width="8.57" height="28.00"/><rect x="188.14" y="690.80" width="8.57" height="21.00"/><rect x="196.71" y="683.80" width="8.57" height="28.00"/><rect x="205.28" y="704.80" width="8.57" height="7.00"/></g><path d="M103.00,711.80 C105.75,711.42 115.33,710.55 119.50,709.50 C123.67,708.45 125.12,706.92 128.00,705.50 C130.88,704.08 133.92,702.80 136.80,701.00 C139.68,699.20 142.45,696.65 145.30,694.70 C148.15,692.75 151.10,690.67 153.90,689.30 C156.70,687.93 159.25,686.88 162.10,686.50 C164.95,686.12 168.10,686.80 171.00,687.00 C173.90,687.20 176.67,687.78 179.50,687.70 C182.33,687.62 185.20,687.57 188.00,686.50 C190.80,685.43 193.47,683.02 196.30,681.30 C199.13,679.58 202.47,677.30 205.00,676.20 C207.53,675.10 208.47,674.00 211.50,674.70 C214.53,675.40 219.35,677.88 223.20,680.40 C227.05,682.92 230.80,686.65 234.60,689.80 C238.40,692.95 242.22,696.45 246.00,699.30 C249.78,702.15 253.52,705.00 257.30,706.90 C261.08,708.80 264.58,709.93 268.70,710.70 C272.82,711.47 277.62,711.42 282.00,711.50 C286.38,711.58 291.50,711.30 295.00,711.20 C298.50,711.10 299.83,710.80 303.00,710.90 C306.17,711.00 312.17,711.65 314.00,711.80 L314.00,711.80 L103.00,711.80 Z" fill="rgb(83,135,191)" fill-opacity="0.58"/><g fill="none" stroke="rgb(208,116,100)" stroke-opacity="0.78" stroke-width="1"><rect x="85.30" y="704.80" width="8.57" height="7.00"/><rect x="93.87" y="704.80" width="8.57" height="7.00"/><rect x="102.44" y="690.80" width="8.57" height="21.00"/><rect x="111.01" y="697.80" width="8.57" height="14.00"/><rect x="119.58" y="683.80" width="8.57" height="28.00"/><rect x="128.15" y="676.80" width="8.57" height="35.00"/><rect x="136.72" y="697.80" width="8.57" height="14.00"/><rect x="145.29" y="655.80" width="8.57" height="56.00"/><rect x="153.86" y="683.80" width="8.57" height="28.00"/><rect x="162.43" y="676.80" width="8.57" height="35.00"/><rect x="171.00" y="669.80" width="8.57" height="42.00"/><rect x="179.57" y="683.80" width="8.57" height="28.00"/><rect x="188.14" y="690.80" width="8.57" height="21.00"/><rect x="196.71" y="683.80" width="8.57" height="28.00"/><rect x="205.28" y="704.80" width="8.57" height="7.00"/></g><path d="M62.00,711.80 C63.67,711.75 68.12,711.80 72.00,711.50 C75.88,711.20 81.68,710.75 85.30,710.00 C88.92,709.25 90.88,708.42 93.70,707.00 C96.52,705.58 99.30,703.58 102.20,701.50 C105.10,699.42 108.22,696.75 111.10,694.50 C113.98,692.25 116.63,689.92 119.50,688.00 C122.37,686.08 125.42,684.30 128.30,683.00 C131.18,681.70 133.97,681.10 136.80,680.20 C139.63,679.30 141.60,678.33 145.30,677.60 C149.00,676.87 154.72,675.80 159.00,675.80 C163.28,675.80 167.58,676.52 171.00,677.60 C174.42,678.68 176.67,680.83 179.50,682.30 C182.33,683.77 185.20,685.23 188.00,686.40 C190.80,687.57 193.47,687.47 196.30,689.30 C199.13,691.13 202.12,694.72 205.00,697.40 C207.88,700.08 210.70,703.33 213.60,705.40 C216.50,707.47 218.67,708.73 222.40,709.80 C226.13,710.87 233.73,711.47 236.00,711.80 L236.00,711.80 L62.00,711.80 Z" fill="rgb(187,77,57)" fill-opacity="0.50"/></g><line x1="46.60" y1="711.80" x2="328.40" y2="711.80" stroke="#1a1a1a" stroke-width="1.3"/><line x1="63.80" y1="711.80" x2="63.80" y2="714.80" stroke="#1a1a1a" stroke-width="1.1"/><text x="67.16" y="728.00" text-anchor="middle" font-size="12.10" fill="#1a1a1a">1.2</text><line x1="132.40" y1="711.80" x2="132.40" y2="714.80" stroke="#1a1a1a" stroke-width="1.1"/><text x="135.76" y="728.00" text-anchor="middle" font-size="12.10" fill="#1a1a1a">1.6</text><line x1="201.00" y1="711.80" x2="201.00" y2="714.80" stroke="#1a1a1a" stroke-width="1.1"/><text x="204.36" y="728.00" text-anchor="middle" font-size="12.10" fill="#1a1a1a">2.0</text><line x1="269.60" y1="711.80" x2="269.60" y2="714.80" stroke="#1a1a1a" stroke-width="1.1"/><text x="272.96" y="728.00" text-anchor="middle" font-size="12.10" fill="#1a1a1a">2.4</text>
<clipPath id="cdr"><rect x="0" y="574.20" width="685" height="139.60"/></clipPath><g clip-path="url(#cdr)"><g fill="#dee7f1" stroke="rgb(106,152,204)" stroke-opacity="0.85" stroke-width="1"><rect x="503.16" y="662.70" width="8.62" height="49.10"/><rect x="511.78" y="638.15" width="8.62" height="73.65"/><rect x="520.40" y="515.40" width="8.62" height="196.40"/><rect x="529.02" y="515.40" width="8.62" height="196.40"/><rect x="537.64" y="652.88" width="8.62" height="58.92"/><rect x="546.26" y="697.07" width="8.62" height="14.73"/></g><g fill="#f3e0dd"><rect x="477.30" y="706.89" width="8.62" height="4.91"/><rect x="494.54" y="692.16" width="8.62" height="19.64"/><rect x="503.16" y="667.61" width="8.62" height="44.19"/><rect x="511.78" y="662.70" width="8.62" height="49.10"/><rect x="520.40" y="662.70" width="8.62" height="49.10"/><rect x="529.02" y="662.70" width="8.62" height="49.10"/><rect x="537.64" y="697.07" width="8.62" height="14.73"/><rect x="546.26" y="701.98" width="8.62" height="9.82"/><rect x="554.88" y="706.89" width="8.62" height="4.91"/></g><g fill="#f3e0dd"><rect x="366.30" y="701.98" width="8.62" height="9.82"/></g><g fill="#f3e0dd"><rect x="606.40" y="706.89" width="8.62" height="4.91"/></g><path d="M509.00,711.80 C509.67,709.83 511.67,705.70 513.00,700.00 C514.33,694.30 515.57,687.60 517.00,677.60 C518.43,667.60 520.18,648.02 521.60,640.00 C523.02,631.98 524.22,631.25 525.50,629.50 C526.78,627.75 527.93,630.58 529.30,629.50 C530.67,628.42 532.40,623.00 533.70,623.00 C535.00,623.00 536.02,624.80 537.10,629.50 C538.18,634.20 539.03,642.67 540.20,651.20 C541.37,659.73 542.80,672.40 544.10,680.70 C545.40,689.00 546.58,696.33 548.00,701.00 C549.42,705.67 550.60,706.90 552.60,708.70 C554.60,710.50 558.77,711.28 560.00,711.80 L560.00,711.80 L509.00,711.80 Z" fill="rgb(83,135,191)" fill-opacity="0.58"/><g fill="none" stroke="rgb(208,116,100)" stroke-opacity="0.78" stroke-width="1"><rect x="477.30" y="706.89" width="8.62" height="4.91"/><rect x="494.54" y="692.16" width="8.62" height="19.64"/><rect x="503.16" y="667.61" width="8.62" height="44.19"/><rect x="511.78" y="662.70" width="8.62" height="49.10"/><rect x="520.40" y="662.70" width="8.62" height="49.10"/><rect x="529.02" y="662.70" width="8.62" height="49.10"/><rect x="537.64" y="697.07" width="8.62" height="14.73"/><rect x="546.26" y="701.98" width="8.62" height="9.82"/><rect x="554.88" y="706.89" width="8.62" height="4.91"/></g><g fill="none" stroke="rgb(208,116,100)" stroke-opacity="0.78" stroke-width="1"><rect x="366.30" y="701.98" width="8.62" height="9.82"/></g><g fill="none" stroke="rgb(208,116,100)" stroke-opacity="0.78" stroke-width="1"><rect x="606.40" y="706.89" width="8.62" height="4.91"/></g><path d="M470.00,711.80 C471.22,711.67 474.53,711.52 477.30,711.00 C480.07,710.48 483.75,710.63 486.60,708.70 C489.45,706.77 491.62,704.07 494.40,699.40 C497.18,694.73 500.40,686.13 503.30,680.70 C506.20,675.27 508.97,669.90 511.80,666.80 C514.63,663.70 518.15,663.07 520.30,662.10 C522.45,661.13 523.20,661.00 524.70,661.00 C526.20,661.00 527.10,659.85 529.30,662.10 C531.50,664.35 535.05,668.80 537.90,674.50 C540.75,680.20 543.63,690.98 546.40,696.30 C549.17,701.62 551.65,704.20 554.50,706.40 C557.35,708.60 559.58,708.60 563.50,709.50 C567.42,710.40 575.58,711.42 578.00,711.80 L578.00,711.80 L470.00,711.80 Z" fill="rgb(187,77,57)" fill-opacity="0.50"/><path d="M358.00,711.80 C359.33,711.42 363.53,710.27 366.00,709.50 C368.47,708.73 370.80,707.37 372.80,707.20 C374.80,707.03 375.80,707.73 378.00,708.50 C380.20,709.27 384.67,711.25 386.00,711.80 L386.00,711.80 L358.00,711.80 Z" fill="rgb(187,77,57)" fill-opacity="0.50"/><path d="M596.00,711.80 C597.33,711.50 601.50,710.50 604.00,710.00 C606.50,709.50 608.67,708.80 611.00,708.80 C613.33,708.80 615.50,709.50 618.00,710.00 C620.50,710.50 624.67,711.50 626.00,711.80 L626.00,711.80 L596.00,711.80 Z" fill="rgb(187,77,57)" fill-opacity="0.50"/></g><line x1="354.50" y1="711.80" x2="635.70" y2="711.80" stroke="#1a1a1a" stroke-width="1.3"/><line x1="371.00" y1="711.80" x2="371.00" y2="714.80" stroke="#1a1a1a" stroke-width="1.1"/><text x="374.36" y="728.00" text-anchor="middle" font-size="12.10" fill="#1a1a1a">0.0</text><line x1="430.10" y1="711.80" x2="430.10" y2="714.80" stroke="#1a1a1a" stroke-width="1.1"/><text x="433.46" y="728.00" text-anchor="middle" font-size="12.10" fill="#1a1a1a">0.5</text><line x1="489.30" y1="711.80" x2="489.30" y2="714.80" stroke="#1a1a1a" stroke-width="1.1"/><text x="492.66" y="728.00" text-anchor="middle" font-size="12.10" fill="#1a1a1a">1.0</text><line x1="548.50" y1="711.80" x2="548.50" y2="714.80" stroke="#1a1a1a" stroke-width="1.1"/><text x="551.86" y="728.00" text-anchor="middle" font-size="12.10" fill="#1a1a1a">1.5</text><line x1="607.80" y1="711.80" x2="607.80" y2="714.80" stroke="#1a1a1a" stroke-width="1.1"/><text x="611.16" y="728.00" text-anchor="middle" font-size="12.10" fill="#1a1a1a">2.0</text>
<line x1="46.50" y1="9.00" x2="46.50" y2="146.50" stroke="#1a1a1a" stroke-width="1.3"/><line x1="43.50" y1="146.60" x2="46.50" y2="146.60" stroke="#1a1a1a" stroke-width="1.1"/><text x="40.5" y="146.80" text-anchor="end" font-size="12.10" fill="#1a1a1a">0</text><line x1="43.50" y1="113.60" x2="46.50" y2="113.60" stroke="#1a1a1a" stroke-width="1.1"/><text x="40.5" y="113.80" text-anchor="end" font-size="12.10" fill="#1a1a1a">2</text><line x1="43.50" y1="80.50" x2="46.50" y2="80.50" stroke="#1a1a1a" stroke-width="1.1"/><text x="40.5" y="80.70" text-anchor="end" font-size="12.10" fill="#1a1a1a">4</text><line x1="43.50" y1="47.30" x2="46.50" y2="47.30" stroke="#1a1a1a" stroke-width="1.1"/><text x="40.5" y="47.50" text-anchor="end" font-size="12.10" fill="#1a1a1a">6</text><line x1="43.50" y1="14.00" x2="46.50" y2="14.00" stroke="#1a1a1a" stroke-width="1.1"/><text x="40.5" y="14.20" text-anchor="end" font-size="12.10" fill="#1a1a1a">8</text>
<line x1="46.50" y1="197.40" x2="46.50" y2="338.40" stroke="#1a1a1a" stroke-width="1.3"/><line x1="43.50" y1="338.80" x2="46.50" y2="338.80" stroke="#1a1a1a" stroke-width="1.1"/><text x="40.5" y="339.00" text-anchor="end" font-size="12.10" fill="#1a1a1a">0.0</text><line x1="43.50" y1="304.85" x2="46.50" y2="304.85" stroke="#1a1a1a" stroke-width="1.1"/><text x="40.5" y="305.05" text-anchor="end" font-size="12.10" fill="#1a1a1a">2.5</text><line x1="43.50" y1="270.90" x2="46.50" y2="270.90" stroke="#1a1a1a" stroke-width="1.1"/><text x="40.5" y="271.10" text-anchor="end" font-size="12.10" fill="#1a1a1a">5.0</text><line x1="43.50" y1="236.95" x2="46.50" y2="236.95" stroke="#1a1a1a" stroke-width="1.1"/><text x="40.5" y="237.15" text-anchor="end" font-size="12.10" fill="#1a1a1a">7.5</text><line x1="43.50" y1="203.00" x2="46.50" y2="203.00" stroke="#1a1a1a" stroke-width="1.1"/><text x="40.5" y="203.20" text-anchor="end" font-size="12.10" fill="#1a1a1a">10.0</text>
<line x1="46.50" y1="391.00" x2="46.50" y2="526.90" stroke="#1a1a1a" stroke-width="1.3"/><line x1="43.50" y1="527.00" x2="46.50" y2="527.00" stroke="#1a1a1a" stroke-width="1.1"/><text x="40.5" y="527.20" text-anchor="end" font-size="12.10" fill="#1a1a1a">0</text><line x1="43.50" y1="494.30" x2="46.50" y2="494.30" stroke="#1a1a1a" stroke-width="1.1"/><text x="40.5" y="494.50" text-anchor="end" font-size="12.10" fill="#1a1a1a">2</text><line x1="43.50" y1="461.60" x2="46.50" y2="461.60" stroke="#1a1a1a" stroke-width="1.1"/><text x="40.5" y="461.80" text-anchor="end" font-size="12.10" fill="#1a1a1a">4</text><line x1="43.50" y1="428.90" x2="46.50" y2="428.90" stroke="#1a1a1a" stroke-width="1.1"/><text x="40.5" y="429.10" text-anchor="end" font-size="12.10" fill="#1a1a1a">6</text><line x1="43.50" y1="396.20" x2="46.50" y2="396.20" stroke="#1a1a1a" stroke-width="1.1"/><text x="40.5" y="396.40" text-anchor="end" font-size="12.10" fill="#1a1a1a">8</text>
<line x1="46.60" y1="574.20" x2="46.60" y2="711.80" stroke="#1a1a1a" stroke-width="1.3"/><line x1="43.60" y1="711.90" x2="46.60" y2="711.90" stroke="#1a1a1a" stroke-width="1.1"/><text x="40.5" y="712.10" text-anchor="end" font-size="12.10" fill="#1a1a1a">0</text><line x1="43.60" y1="674.70" x2="46.60" y2="674.70" stroke="#1a1a1a" stroke-width="1.1"/><text x="40.5" y="674.90" text-anchor="end" font-size="12.10" fill="#1a1a1a">2</text><line x1="43.60" y1="637.50" x2="46.60" y2="637.50" stroke="#1a1a1a" stroke-width="1.1"/><text x="40.5" y="637.70" text-anchor="end" font-size="12.10" fill="#1a1a1a">4</text><line x1="43.60" y1="600.30" x2="46.60" y2="600.30" stroke="#1a1a1a" stroke-width="1.1"/><text x="40.5" y="600.50" text-anchor="end" font-size="12.10" fill="#1a1a1a">6</text>
<text transform="translate(20.20,78.20) rotate(-90)" text-anchor="middle" font-size="10.8" fill="#1a1a1a">Density</text>
<text transform="translate(20.20,267.80) rotate(-90)" text-anchor="middle" font-size="10.8" fill="#1a1a1a">Density</text>
<text transform="translate(28.60,452.40) rotate(-90)" text-anchor="middle" font-size="10.8" fill="#1a1a1a">Density</text>
<text transform="translate(20.20,650.20) rotate(-90)" text-anchor="middle" font-size="10.8" fill="#1a1a1a">Density</text>
<rect x="59.30" y="-1.00" width="246.10" height="11.70" fill="#e4e4e4"/><text x="181.85" y="9.40" text-anchor="middle" font-size="10.8" fill="#222">Lysogenic virus</text>
<rect x="366.70" y="-1.00" width="246.50" height="12.00" fill="#e4e4e4"/><text x="492.55" y="10.30" text-anchor="middle" font-size="10.8" fill="#222">Lytic virus</text>
<rect x="59.20" y="188.50" width="246.20" height="10.40" fill="#e4e4e4"/><text x="182.00" y="197.40" text-anchor="middle" font-size="10.8" fill="#222">Lysogenic virus</text>
<rect x="366.70" y="188.20" width="246.80" height="10.80" fill="#e4e4e4"/><text x="493.10" y="197.70" text-anchor="middle" font-size="10.8" fill="#222">Lytic virus</text>
<rect x="56.90" y="376.80" width="246.40" height="11.10" fill="#fdf3e3"/><text x="181.80" y="387.70" text-anchor="middle" font-size="10.8" fill="#222">As oxidation</text>
<rect x="367.90" y="377.60" width="245.50" height="10.70" fill="#f4f2fc"/><text x="493.05" y="387.70" text-anchor="middle" font-size="10.8" fill="#222">As reduction</text>
<rect x="57.50" y="562.40" width="246.00" height="11.00" fill="#fdf3e3"/><text x="182.20" y="573.40" text-anchor="middle" font-size="10.8" fill="#222">As oxidation</text>
<rect x="366.70" y="562.30" width="246.70" height="11.30" fill="#f4f2fc"/><text x="492.45" y="573.40" text-anchor="middle" font-size="10.8" fill="#222">As reduction</text>
<text x="256.60" y="28.80" font-size="9.7" textLength="44.8" lengthAdjust="spacingAndGlyphs" fill="#111"><tspan font-style="italic">P</tspan> &lt; 0.0001</text>
<text x="571.00" y="27.90" font-size="9.7" textLength="49.4" lengthAdjust="spacingAndGlyphs" fill="#111"><tspan font-style="italic">p</tspan> = 0.00194</text>
<text x="257.00" y="216.20" font-size="9.7" textLength="40.5" lengthAdjust="spacingAndGlyphs" fill="#111"><tspan font-style="italic">P</tspan> = 0.338</text>
<text x="571.00" y="216.70" font-size="9.7" textLength="44.0" lengthAdjust="spacingAndGlyphs" fill="#111"><tspan font-style="italic">p</tspan> &lt; 0.0001</text>
<text x="255.80" y="406.40" font-size="9.7" textLength="44.8" lengthAdjust="spacingAndGlyphs" fill="#111"><tspan font-style="italic">P</tspan> &lt; 0.0001</text>
<text x="570.80" y="407.80" font-size="9.7" textLength="39.7" lengthAdjust="spacingAndGlyphs" fill="#111"><tspan font-style="italic">p</tspan> = 0.173</text>
<text x="255.80" y="591.20" font-size="9.7" textLength="44.8" lengthAdjust="spacingAndGlyphs" fill="#111"><tspan font-style="italic">P</tspan> &lt; 0.0001</text>
<text x="570.80" y="591.00" font-size="9.7" textLength="39.7" lengthAdjust="spacingAndGlyphs" fill="#111"><tspan font-style="italic">p</tspan> = 0.525</text>
<rect x="616.10" y="97.40" width="13.4" height="5.1" fill="rgb(187,77,57)" fill-opacity="0.5" stroke="rgb(208,116,100)" stroke-width="1.1"/><text x="632.60" y="104.00" font-size="10.1" textLength="53.0" lengthAdjust="spacingAndGlyphs" fill="#111">Rhizosphere</text><rect x="616.10" y="114.90" width="13.4" height="5.1" fill="rgb(83,135,191)" fill-opacity="0.5" stroke="rgb(106,152,204)" stroke-width="1.1"/><text x="632.60" y="121.00" font-size="10.1" textLength="35.0" lengthAdjust="spacingAndGlyphs" fill="#111">Bulk soil</text>
<rect x="616.50" y="286.50" width="13.4" height="5.1" fill="rgb(187,77,57)" fill-opacity="0.5" stroke="rgb(208,116,100)" stroke-width="1.1"/><text x="633.00" y="293.60" font-size="10.1" textLength="53.0" lengthAdjust="spacingAndGlyphs" fill="#111">Rhizosphere</text><rect x="616.50" y="304.30" width="13.4" height="5.1" fill="rgb(83,135,191)" fill-opacity="0.5" stroke="rgb(106,152,204)" stroke-width="1.1"/><text x="633.00" y="310.30" font-size="10.1" textLength="35.0" lengthAdjust="spacingAndGlyphs" fill="#111">Bulk soil</text>
<rect x="616.30" y="472.20" width="13.4" height="5.1" fill="rgb(187,77,57)" fill-opacity="0.5" stroke="rgb(208,116,100)" stroke-width="1.1"/><text x="632.80" y="479.20" font-size="10.1" textLength="53.0" lengthAdjust="spacingAndGlyphs" fill="#111">Rhizosphere</text><rect x="616.30" y="489.70" width="13.4" height="5.1" fill="rgb(83,135,191)" fill-opacity="0.5" stroke="rgb(106,152,204)" stroke-width="1.1"/><text x="632.80" y="496.10" font-size="10.1" textLength="35.0" lengthAdjust="spacingAndGlyphs" fill="#111">Bulk soil</text>
<rect x="615.90" y="665.00" width="13.4" height="5.1" fill="rgb(187,77,57)" fill-opacity="0.5" stroke="rgb(208,116,100)" stroke-width="1.1"/><text x="632.40" y="671.80" font-size="10.1" textLength="53.0" lengthAdjust="spacingAndGlyphs" fill="#111">Rhizosphere</text><rect x="615.90" y="683.00" width="13.4" height="5.1" fill="rgb(83,135,191)" fill-opacity="0.5" stroke="rgb(106,152,204)" stroke-width="1.1"/><text x="632.40" y="689.10" font-size="10.1" textLength="35.0" lengthAdjust="spacingAndGlyphs" fill="#111">Bulk soil</text>
<text x="346.40" y="175.80" text-anchor="middle" font-size="10.9" fill="#111">Abundance of viruses associated with As-oxidizing microbes (log<tspan font-size="7.5" dy="2.2">10</tspan><tspan dy="-2.2"> copies ng</tspan><tspan font-size="7.5" dy="-4">-1</tspan><tspan dy="4"> DNA)</tspan></text>
<text x="349.20" y="367.40" text-anchor="middle" font-size="10.9" fill="#111">Abundance of viruses associated with As-reducing microbes (log10 copies ng<tspan font-size="7.5" dy="-4">-1</tspan><tspan dy="4"> DNA)</tspan></text>
<text x="349.70" y="554.00" text-anchor="middle" font-size="10.9" fill="#111">Abundance of integrase genes (log<tspan font-size="7.5" dy="2.2">10</tspan><tspan dy="-2.2"> copies ng</tspan><tspan font-size="7.5" dy="-4">-1</tspan><tspan dy="4"> DNA)</tspan></text>
<text x="331.60" y="739.30" text-anchor="middle" font-size="10.9" fill="#111">Virus to host abundance ratio</text>
<text x="0" y="12.30" class="lt" font-size="23" fill="#000">a</text>
<text x="0" y="199.70" class="lt" font-size="23" fill="#000">b</text>
<text x="0" y="387.50" class="lt" font-size="23" fill="#000">c</text>
<text x="0" y="563.50" class="lt" font-size="23" fill="#000">d</text>
<g><rect x="70.10" y="15.60" width="29.40" height="17.70" rx="8.85" fill="#f3f7fc" stroke="#d8b347" stroke-width="1.9"/><path d="M73.90,21.70 L75.30,22.70 L76.80,21.90 L78.30,22.90 L79.80,22.10 L81.30,23.10" fill="none" stroke="#8fd0d8" stroke-width="1.30" stroke-linejoin="round" stroke-linecap="round"/><path d="M79.60,18.90 L80.50,20.10 L79.90,21.10 L81.60,22.20 L82.80,21.60 L81.80,24.10 L83.30,25.10 L82.10,26.60 L83.60,28.90" fill="none" stroke="#8fd0d8" stroke-width="1.30" stroke-linejoin="round" stroke-linecap="round"/><path d="M74.90,26.50 L76.30,25.50 L77.90,26.90 L76.70,28.30 L77.50,29.50 L79.30,28.10 L80.80,27.10 L82.10,25.10" fill="none" stroke="#8fd0d8" stroke-width="1.30" stroke-linejoin="round" stroke-linecap="round"/><path d="M82.30,23.10 L84.30,22.30 L85.80,23.30 L87.30,21.70 L88.80,22.70 L90.30,21.10 L91.80,22.10 L92.70,20.90 L94.30,22.60 L95.80,24.60 L96.60,26.60 L95.30,28.30" fill="none" stroke="#8fd0d8" stroke-width="1.30" stroke-linejoin="round" stroke-linecap="round"/><path d="M88.30,22.10 L89.10,24.60 L89.90,26.60 L89.30,28.60 L90.10,30.10" fill="none" stroke="#8fd0d8" stroke-width="1.10" stroke-linejoin="round" stroke-linecap="round"/><path d="M90.60,29.50 L93.30,28.70 L96.30,27.40" fill="none" stroke="#d23a5a" stroke-width="1.20" stroke-linejoin="round" stroke-linecap="round"/><path d="M75.30,27.10 L77.30,28.60 L79.30,27.60 L81.30,28.60 L82.80,27.60" fill="none" stroke="#8fd0d8" stroke-width="1.40" stroke-linejoin="round" stroke-linecap="round"/></g>
<g><path d="M381.00,19.40 C382.90,21.00 382.70,22.80 380.70,24.80 C378.30,27.10 377.70,29.10 377.70,31.20 C377.70,36.00 380.70,38.00 384.90,38.00 L400.30,38.00 C404.70,38.00 407.60,35.00 407.60,30.60 C407.60,26.20 404.70,23.00 400.30,23.00 L390.90,23.00 C389.30,23.00 388.60,22.00 388.60,19.00" fill="#f3f7fc" stroke="#d8b347" stroke-width="1.5" stroke-linecap="round"/><line x1="385.60" y1="18.80" x2="385.60" y2="24.60" stroke="#9a9a9a" stroke-width="0.6"/><circle cx="382.70" cy="14.70" r="1.5" fill="#fbeef0" stroke="#eaa9b0" stroke-width="0.8"/><line x1="383.93" y1="15.86" x2="386.20" y2="18.00" stroke="#c83a4c" stroke-width="1.2"/><path d="M386.20,17.20 l-1.2,1.2 M386.20,17.20 l1.2,1.2" stroke="#d46a78" stroke-width="0.7"/><circle cx="390.90" cy="13.00" r="1.5" fill="#fbeef0" stroke="#eaa9b0" stroke-width="0.8"/><line x1="391.57" y1="14.68" x2="392.80" y2="17.80" stroke="#c83a4c" stroke-width="1.2"/><path d="M392.80,17.00 l-1.2,1.2 M392.80,17.00 l1.2,1.2" stroke="#d46a78" stroke-width="0.7"/><circle cx="384.50" cy="27.60" r="1.5" fill="#fbeef0" stroke="#eaa9b0" stroke-width="0.8"/><line x1="385.10" y1="29.42" x2="386.20" y2="32.80" stroke="#c83a4c" stroke-width="1.2"/><path d="M386.20,32.00 l-1.2,1.2 M386.20,32.00 l1.2,1.2" stroke="#d46a78" stroke-width="0.7"/><circle cx="393.80" cy="29.30" r="1.5" fill="#fbeef0" stroke="#eaa9b0" stroke-width="0.8"/><line x1="394.01" y1="31.09" x2="394.40" y2="34.40" stroke="#c83a4c" stroke-width="1.2"/><path d="M394.40,33.60 l-1.2,1.2 M394.40,33.60 l1.2,1.2" stroke="#d46a78" stroke-width="0.7"/><circle cx="402.60" cy="27.60" r="1.5" fill="#fbeef0" stroke="#eaa9b0" stroke-width="0.8"/><line x1="401.76" y1="29.42" x2="400.20" y2="32.80" stroke="#c83a4c" stroke-width="1.2"/><path d="M400.20,32.00 l-1.2,1.2 M400.20,32.00 l1.2,1.2" stroke="#d46a78" stroke-width="0.7"/></g>
<g><rect x="70.10" y="204.10" width="29.80" height="17.60" rx="8.80" fill="#f3f7fc" stroke="#aa9fe2" stroke-width="1.9"/><path d="M73.90,210.20 L75.30,211.20 L76.80,210.40 L78.30,211.40 L79.80,210.60 L81.30,211.60" fill="none" stroke="#8fd0d8" stroke-width="1.30" stroke-linejoin="round" stroke-linecap="round"/><path d="M79.60,207.40 L80.50,208.60 L79.90,209.60 L81.60,210.70 L82.80,210.10 L81.80,212.60 L83.30,213.60 L82.10,215.10 L83.60,217.40" fill="none" stroke="#8fd0d8" stroke-width="1.30" stroke-linejoin="round" stroke-linecap="round"/><path d="M74.90,215.00 L76.30,214.00 L77.90,215.40 L76.70,216.80 L77.50,218.00 L79.30,216.60 L80.80,215.60 L82.10,213.60" fill="none" stroke="#8fd0d8" stroke-width="1.30" stroke-linejoin="round" stroke-linecap="round"/><path d="M82.30,211.60 L84.30,210.80 L85.80,211.80 L87.30,210.20 L88.80,211.20 L90.30,209.60 L91.80,210.60 L92.70,209.40 L94.30,211.10 L95.80,213.10 L96.60,215.10 L95.30,216.80" fill="none" stroke="#8fd0d8" stroke-width="1.30" stroke-linejoin="round" stroke-linecap="round"/><path d="M88.30,210.60 L89.10,213.10 L89.90,215.10 L89.30,217.10 L90.10,218.60" fill="none" stroke="#8fd0d8" stroke-width="1.10" stroke-linejoin="round" stroke-linecap="round"/><path d="M90.60,218.00 L93.30,217.20 L96.30,215.90" fill="none" stroke="#d23a5a" stroke-width="1.20" stroke-linejoin="round" stroke-linecap="round"/><path d="M75.30,215.60 L77.30,217.10 L79.30,216.10 L81.30,217.10 L82.80,216.10" fill="none" stroke="#8fd0d8" stroke-width="1.40" stroke-linejoin="round" stroke-linecap="round"/></g>
<g><path d="M380.80,208.40 C382.70,210.00 382.50,211.80 380.50,213.80 C378.10,216.10 377.50,218.10 377.50,220.20 C377.50,225.00 380.50,227.00 384.70,227.00 L400.10,227.00 C404.50,227.00 407.40,224.00 407.40,219.60 C407.40,215.20 404.50,212.00 400.10,212.00 L390.70,212.00 C389.10,212.00 388.40,211.00 388.40,208.00" fill="#f3f7fc" stroke="#aa9fe2" stroke-width="1.5" stroke-linecap="round"/><line x1="385.40" y1="207.80" x2="385.40" y2="213.60" stroke="#9a9a9a" stroke-width="0.6"/><circle cx="382.50" cy="203.70" r="1.5" fill="#fbeef0" stroke="#eaa9b0" stroke-width="0.8"/><line x1="383.73" y1="204.85" x2="386.00" y2="207.00" stroke="#c83a4c" stroke-width="1.2"/><path d="M386.00,206.20 l-1.2,1.2 M386.00,206.20 l1.2,1.2" stroke="#d46a78" stroke-width="0.7"/><circle cx="390.70" cy="202.00" r="1.5" fill="#fbeef0" stroke="#eaa9b0" stroke-width="0.8"/><line x1="391.37" y1="203.68" x2="392.60" y2="206.80" stroke="#c83a4c" stroke-width="1.2"/><path d="M392.60,206.00 l-1.2,1.2 M392.60,206.00 l1.2,1.2" stroke="#d46a78" stroke-width="0.7"/><circle cx="384.30" cy="216.60" r="1.5" fill="#fbeef0" stroke="#eaa9b0" stroke-width="0.8"/><line x1="384.90" y1="218.42" x2="386.00" y2="221.80" stroke="#c83a4c" stroke-width="1.2"/><path d="M386.00,221.00 l-1.2,1.2 M386.00,221.00 l1.2,1.2" stroke="#d46a78" stroke-width="0.7"/><circle cx="393.60" cy="218.30" r="1.5" fill="#fbeef0" stroke="#eaa9b0" stroke-width="0.8"/><line x1="393.81" y1="220.08" x2="394.20" y2="223.40" stroke="#c83a4c" stroke-width="1.2"/><path d="M394.20,222.60 l-1.2,1.2 M394.20,222.60 l1.2,1.2" stroke="#d46a78" stroke-width="0.7"/><circle cx="402.40" cy="216.60" r="1.5" fill="#fbeef0" stroke="#eaa9b0" stroke-width="0.8"/><line x1="401.56" y1="218.42" x2="400.00" y2="221.80" stroke="#c83a4c" stroke-width="1.2"/><path d="M400.00,221.00 l-1.2,1.2 M400.00,221.00 l1.2,1.2" stroke="#d46a78" stroke-width="0.7"/></g>
</svg></body></html>
